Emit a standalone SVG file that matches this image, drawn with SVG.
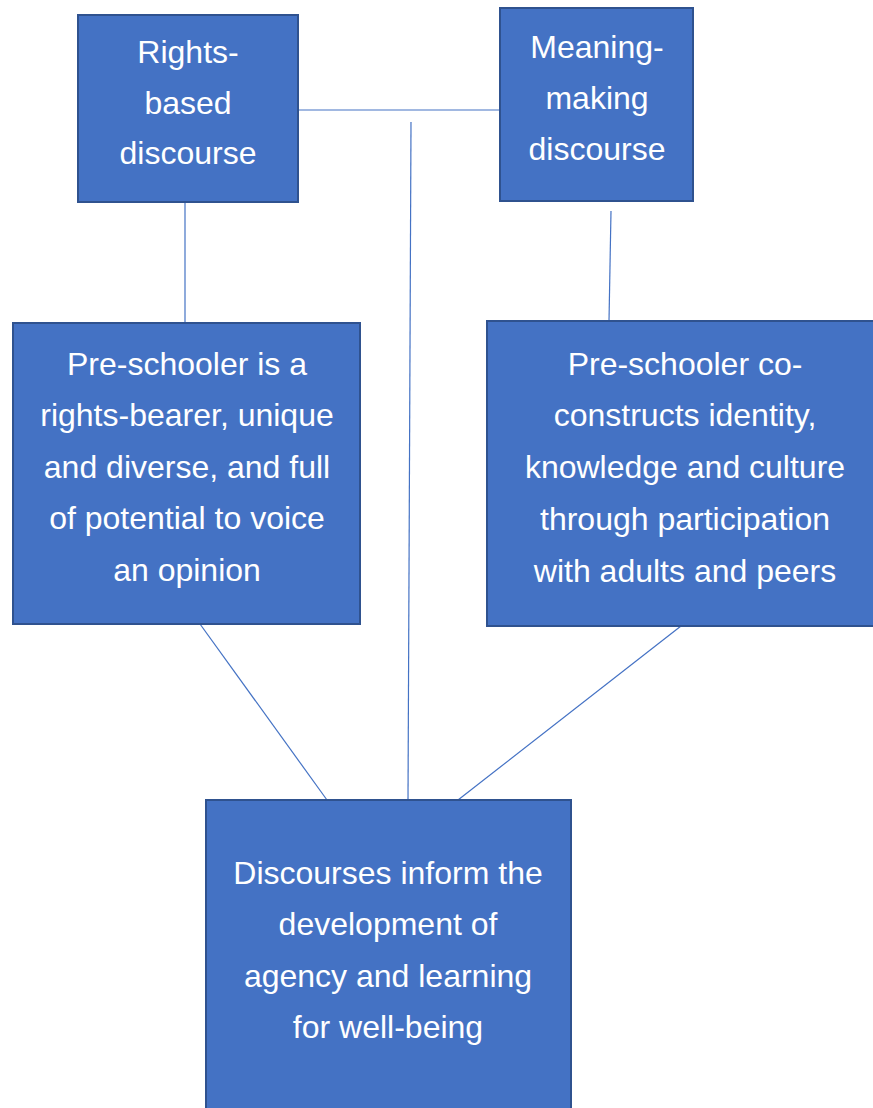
<svg xmlns="http://www.w3.org/2000/svg" width="873" height="1108" viewBox="0 0 873 1108">
<style>
.box{fill:#4472C4;stroke:#2F528F;stroke-width:2}
.t{font-family:"Liberation Sans",Arial,sans-serif;font-size:32px;fill:#FFFFFF;text-anchor:middle}
.c{stroke:#4472C4;stroke-width:1.2;fill:none}
</style>
<rect width="873" height="1108" fill="#FFFFFF"/>
<g id="connectors">
<line class="c" x1="298" y1="110" x2="500" y2="110"/>
<line class="c" x1="411" y1="122" x2="408" y2="800"/>
<line class="c" x1="185" y1="202" x2="185" y2="323"/>
<line class="c" x1="611" y1="211" x2="609" y2="321"/>
<line class="c" x1="200" y1="624" x2="327" y2="800"/>
<line class="c" x1="681" y1="626" x2="458" y2="800"/>
</g>
<g id="rights">
<rect class="box" x="78" y="15" width="220" height="187"/>
<text class="t" x="188" y="63">Rights-</text>
<text class="t" x="188" y="114">based</text>
<text class="t" x="188" y="164">discourse</text>
</g>
<g id="meaning">
<rect class="box" x="500" y="8" width="193" height="193"/>
<text class="t" x="597" y="58">Meaning-</text>
<text class="t" x="597" y="109">making</text>
<text class="t" x="597" y="160">discourse</text>
</g>
<g id="rightsBearer">
<rect class="box" x="13" y="323" width="347" height="301"/>
<text class="t" x="187" y="375">Pre-schooler is a</text>
<text class="t" x="187" y="426">rights-bearer, unique</text>
<text class="t" x="187" y="478">and diverse, and full</text>
<text class="t" x="187" y="529">of potential to voice</text>
<text class="t" x="187" y="581">an opinion</text>
</g>
<g id="coConstructs">
<rect class="box" x="487" y="321" width="390" height="305"/>
<text class="t" x="685" y="375">Pre-schooler co-</text>
<text class="t" x="685" y="426">constructs identity,</text>
<text class="t" x="685" y="478">knowledge and culture</text>
<text class="t" x="685" y="530">through participation</text>
<text class="t" x="685" y="582">with adults and peers</text>
</g>
<g id="discourses">
<rect class="box" x="206" y="800" width="365" height="312"/>
<text class="t" x="388" y="884">Discourses inform the</text>
<text class="t" x="388" y="935">development of</text>
<text class="t" x="388" y="987">agency and learning</text>
<text class="t" x="388" y="1038">for well-being</text>
</g>
</svg>
